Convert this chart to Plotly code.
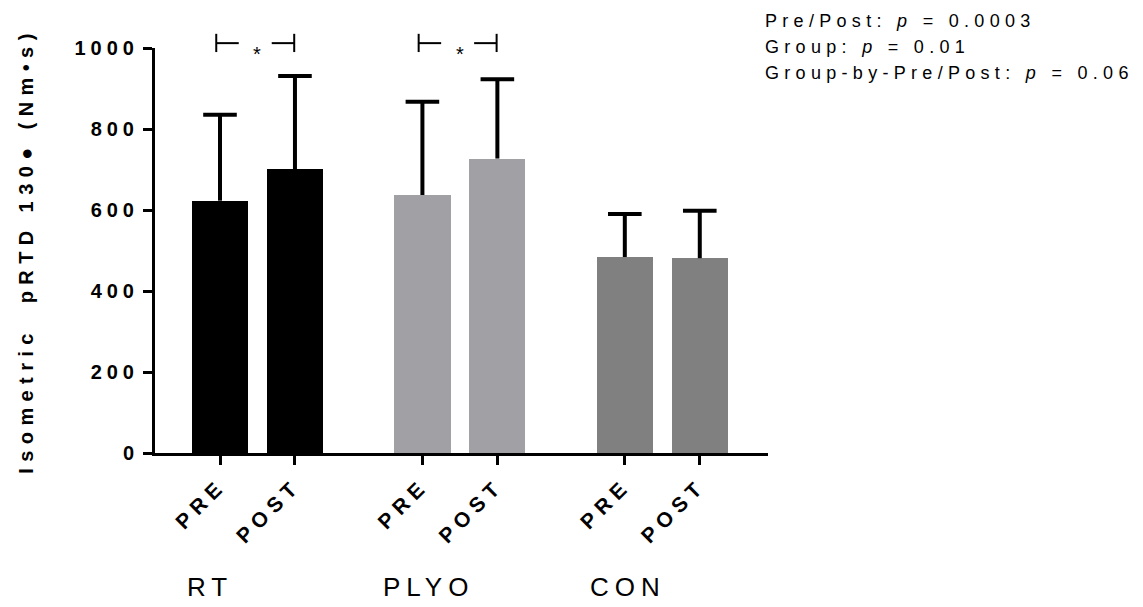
import plotly.graph_objects as go

# ---- data ----
groups = ["RT", "PLYO", "CON"]
times = ["PRE", "POST"]
means = [623, 701, 637, 727, 484, 481]
sds = [212, 230, 230, 196, 106, 117]
bar_colors = ["#000000", "#000000", "#a1a1a5", "#a1a1a5", "#808080", "#808080"]
y_ticks = [0, 200, 400, 600, 800, 1000]
sig_groups = ["RT", "PLYO"]
stats_lines = [
    "Pre/Post: <i>p</i> = 0.0003",
    "Group: <i>p</i> = 0.01",
    "Group-by-Pre/Post: <i>p</i> = 0.06",
]
y_title = "Isometric\u00a0\u00a0pRTD 130\u25cf (Nm\u2022s)"

# ---- layout helpers ----
GROUP_STEP = 2.7
FONT = "Arial, Liberation Sans, sans-serif"


def ls(text, px):
    return f'<span style="letter-spacing:{px}px">{text}</span>'


xpos = []
xlabels = []
for gi, g in enumerate(groups):
    for ti, t in enumerate(times):
        xpos.append(gi * GROUP_STEP + ti)
        xlabels.append(ls(t, 6))

fig = go.Figure()

fig.add_trace(go.Bar(
    x=xpos, y=means, width=0.75,
    marker=dict(color=bar_colors, line=dict(width=0)),
    showlegend=False, hoverinfo="skip",
))

# error whiskers (upper only)
wx, wy = [], []
for x, m, s in zip(xpos, means, sds):
    wx += [x, x, None]
    wy += [m, m + s, None]
fig.add_trace(go.Scatter(
    x=wx, y=wy, mode="lines", line=dict(color="black", width=4),
    showlegend=False, hoverinfo="skip",
))
fig.add_trace(go.Scatter(
    x=xpos, y=[m + s for m, s in zip(means, sds)], mode="markers",
    marker=dict(symbol="line-ew-open", size=24, color="black",
                line=dict(color="black", width=4)),
    showlegend=False, hoverinfo="skip",
))

# significance brackets
for g in sig_groups:
    gi = groups.index(g)
    x0 = gi * GROUP_STEP
    x1 = x0 + 1
    yb, yt, ym = 0.990, 1.035, 1.012
    for xv in (x0 - 0.05, x1 - 0.01):
        fig.add_shape(type="line", xref="x", yref="paper", x0=xv, x1=xv, y0=yb, y1=yt,
                      line=dict(color="black", width=2))
    fig.add_shape(type="line", xref="x", yref="paper", x0=x0 - 0.05, x1=x0 + 0.25, y0=ym, y1=ym,
                  line=dict(color="black", width=2))
    fig.add_shape(type="line", xref="x", yref="paper", x0=x1 - 0.31, x1=x1 - 0.01, y0=ym, y1=ym,
                  line=dict(color="black", width=2))
    fig.add_annotation(x=(x0 + x1) / 2, y=0.985, xref="x", yref="paper", text="*",
                       showarrow=False, yanchor="middle",
                       font=dict(family=FONT, size=20, color="black"))

# group labels
group_label_x = [210, 428, 628]  # pixel centres
for g, px in zip(groups, group_label_x):
    fig.add_annotation(x=(px - 155) / 613, y=(453 - 587) / 405, xref="paper", yref="paper",
                       text=ls(g, 6), showarrow=False, xanchor="center", yanchor="middle",
                       font=dict(family=FONT, size=26, color="black"))

# stats text
for i, line in enumerate(stats_lines):
    ypx = 21 + i * 26
    fig.add_annotation(x=(763 - 155) / 613, y=(453 - ypx) / 405, xref="paper", yref="paper",
                       text=ls(line, 5.3), showarrow=False, xanchor="left", yanchor="middle",
                       font=dict(family=FONT, size=18, color="black"))

fig.update_layout(
    width=1143, height=607,
    margin=dict(l=155, r=375, t=48, b=154, pad=0),
    plot_bgcolor="white", paper_bgcolor="white",
    bargap=0,
    font=dict(family=FONT, color="black"),
)
fig.update_xaxes(
    range=[-0.867, 7.31], tickvals=xpos, ticktext=xlabels, tickangle=-45,
    showline=True, linecolor="black", linewidth=3,
    ticks="outside", ticklen=9, tickwidth=3, tickcolor="black",
    showgrid=False, zeroline=False,
    tickfont=dict(family=FONT, size=21, color="black", weight="bold"),
)
fig.update_yaxes(
    range=[0, 1000], tickvals=y_ticks, ticktext=[ls(str(v), 5) for v in y_ticks],
    showline=True, linecolor="black", linewidth=3,
    ticks="outside", ticklen=9, tickwidth=3, tickcolor="black",
    showgrid=False, zeroline=False,
    tickfont=dict(family=FONT, size=20, color="black", weight="bold"),
    title=dict(text=ls(y_title, 6.4), standoff=36,
               font=dict(family=FONT, size=20, color="black", weight="bold")),
)

fig.write_html("out.html")
